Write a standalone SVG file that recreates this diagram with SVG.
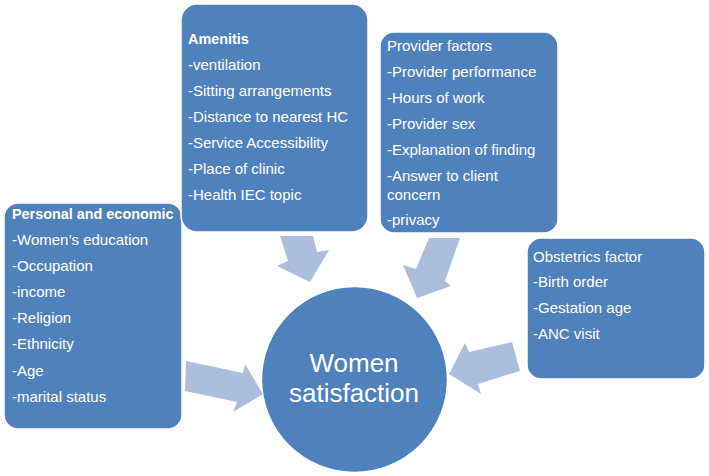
<svg xmlns="http://www.w3.org/2000/svg" width="709" height="476" viewBox="0 0 709 476">
<style>
.box{fill:#4f81bd;stroke:#ffffff;stroke-width:1.5}
.t{font-family:"Liberation Sans",Arial,sans-serif;font-size:15px;fill:#ffffff}
.b{font-weight:bold;font-size:14.4px}
.c{font-family:"Liberation Sans",Arial,sans-serif;font-size:26px;fill:#ffffff;text-anchor:middle}
.arr{fill:#abbedc;stroke:none}
</style>
<rect x="0" y="0" width="709" height="476" fill="#ffffff"/>
<g id="personal">
<rect class="box" x="4" y="203" width="178" height="226" rx="14"/>
<text class="t b" x="12" y="219">Personal and economic</text>
<text class="t" x="12" y="245">-Women’s education</text>
<text class="t" x="12" y="271">-Occupation</text>
<text class="t" x="12" y="297">-income</text>
<text class="t" x="12" y="323">-Religion</text>
<text class="t" x="12" y="349">-Ethnicity</text>
<text class="t" x="12" y="376">-Age</text>
<text class="t" x="12" y="402">-marital status</text>
</g>
<g id="amenitis">
<rect class="box" x="181" y="4" width="187" height="228" rx="16"/>
<text class="t b" x="188" y="44">Amenitis</text>
<text class="t" x="188" y="70">-ventilation</text>
<text class="t" x="188" y="96">-Sitting arrangements</text>
<text class="t" x="188" y="122">-Distance to nearest HC</text>
<text class="t" x="188" y="148">-Service Accessibility</text>
<text class="t" x="188" y="174">-Place of clinic</text>
<text class="t" x="188" y="200">-Health IEC topic</text>
</g>
<g id="provider">
<rect class="box" x="380" y="32" width="178" height="201" rx="14"/>
<text class="t" x="387" y="51">Provider factors</text>
<text class="t" x="387" y="77">-Provider performance</text>
<text class="t" x="387" y="103">-Hours of work</text>
<text class="t" x="387" y="129">-Provider sex</text>
<text class="t" x="387" y="155">-Explanation of finding</text>
<text class="t" x="387" y="181">-Answer to client</text>
<text class="t" x="387" y="200">concern</text>
<text class="t" x="387" y="225">-privacy</text>
</g>
<g id="obstetrics">
<rect class="box" x="527" y="238" width="178" height="141" rx="14"/>
<text class="t" x="533" y="262">Obstetrics factor</text>
<text class="t" x="533" y="287">-Birth order</text>
<text class="t" x="533" y="313">-Gestation age</text>
<text class="t" x="533" y="339">-ANC visit</text>
</g>
<g id="women-satisfaction">
<circle class="box" cx="354.5" cy="379.5" r="93"/>
<text class="c" x="354" y="372">Women</text>
<text class="c" x="354" y="402">satisfaction</text>
</g>
<g id="connectors">
<polygon class="arr" points="280,236 313,236 317,252 329,250 310,282 277,266 288,261"/>
<polygon class="arr" points="429,238 460,238 445,281 451,286 417,298 403,265 416,269"/>
<polygon class="arr" points="186,361 243,373 245,364 263,394 233,412 237,402 185,391"/>
<polygon class="arr" points="512,342 520,371 478,384 481,394 449,374 465,343 469,352"/>
</g>
</svg>
